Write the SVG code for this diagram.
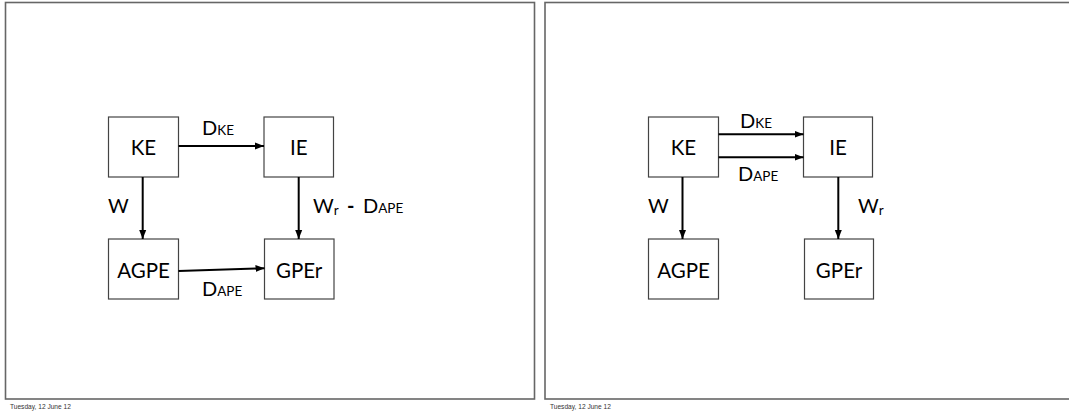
<svg xmlns="http://www.w3.org/2000/svg" width="1069" height="412" viewBox="0 0 1069 412">
<defs>
<marker id="ah" markerUnits="userSpaceOnUse" markerWidth="10" markerHeight="8" refX="9" refY="4" orient="auto">
<path d="M0,0.5 L9,4 L0,7.5 z" fill="#000"/>
</marker>
<style>
.frame{fill:#fff;stroke:#666;stroke-width:1.6}
.box{fill:#fff;stroke:#444;stroke-width:1.2}
.lbl{font-family:Lato,"Liberation Sans",sans-serif;font-size:20px;fill:#000}
.nl{font-family:Lato,"Liberation Sans",sans-serif;font-size:20.5px;fill:#000;text-anchor:middle}
.sub{font-size:13.5px}
.edge{stroke:#000;stroke-width:2;fill:none;marker-end:url(#ah)}
.foot{font-family:"Liberation Sans",sans-serif;font-size:6.6px;fill:#333}
</style>
</defs>
<rect width="1069" height="412" fill="#fff"/>
<rect class="frame" x="5.5" y="2.5" width="529" height="396.5"/>
<rect class="frame" x="545" y="2.5" width="530" height="396.5"/>
<text class="foot" x="10" y="409">Tuesday, 12 June 12</text>
<text class="foot" x="550" y="409">Tuesday, 12 June 12</text>

<g id="L-KE"><rect class="box" x="108.5" y="117" width="70" height="60"/><text class="nl" x="143.5" y="155">KE</text></g>
<g id="L-IE"><rect class="box" x="264" y="117" width="69.5" height="60"/><text class="nl" x="298.7" y="155">IE</text></g>
<g id="L-AGPE"><rect class="box" x="108.5" y="239" width="70" height="60"/><text class="nl" x="143.5" y="277.5">AGPE</text></g>
<g id="L-GPEr"><rect class="box" x="264.5" y="239" width="69.5" height="60"/><text class="nl" x="299.2" y="277.5">GPEr</text></g>

<g id="R-KE"><rect class="box" x="648.5" y="117" width="70" height="60"/><text class="nl" x="683.5" y="155">KE</text></g>
<g id="R-IE"><rect class="box" x="803.5" y="117" width="69" height="60"/><text class="nl" x="838" y="155">IE</text></g>
<g id="R-AGPE"><rect class="box" x="648.5" y="239" width="70" height="60"/><text class="nl" x="683.5" y="277.5">AGPE</text></g>
<g id="R-GPEr"><rect class="box" x="804.5" y="239" width="69" height="60"/><text class="nl" x="839" y="277.5">GPEr</text></g>

<g id="connectors">
<line class="edge" x1="178.5" y1="146" x2="264" y2="146"/>
<line class="edge" x1="142.7" y1="177" x2="142.7" y2="239"/>
<line class="edge" x1="298.7" y1="177" x2="298.7" y2="239"/>
<line class="edge" x1="178.5" y1="271" x2="264.5" y2="268.3"/>
<line class="edge" x1="718.5" y1="134.3" x2="803.5" y2="134.3"/>
<line class="edge" x1="718.5" y1="157.3" x2="803.5" y2="157.3"/>
<line class="edge" x1="682.5" y1="177" x2="682.5" y2="239"/>
<line class="edge" x1="838.3" y1="177" x2="838.3" y2="239"/>
</g>

<g id="labels">
<text class="lbl" x="202" y="135">D<tspan class="sub">KE</tspan></text>
<text class="lbl" x="108" y="213">W</text>
<text class="lbl" x="313" y="213">W<tspan class="sub" dy="1.5">r</tspan><tspan x="347" dy="-1.5" font-weight="bold">-</tspan><tspan x="363">D</tspan><tspan class="sub">APE</tspan></text>
<text class="lbl" x="202" y="296">D<tspan class="sub">APE</tspan></text>
<text class="lbl" x="740" y="127.7">D<tspan class="sub">KE</tspan></text>
<text class="lbl" x="738" y="181">D<tspan class="sub">APE</tspan></text>
<text class="lbl" x="648" y="213">W</text>
<text class="lbl" x="858" y="213">W<tspan class="sub" dy="1.5">r</tspan></text>
</g>
</svg>
